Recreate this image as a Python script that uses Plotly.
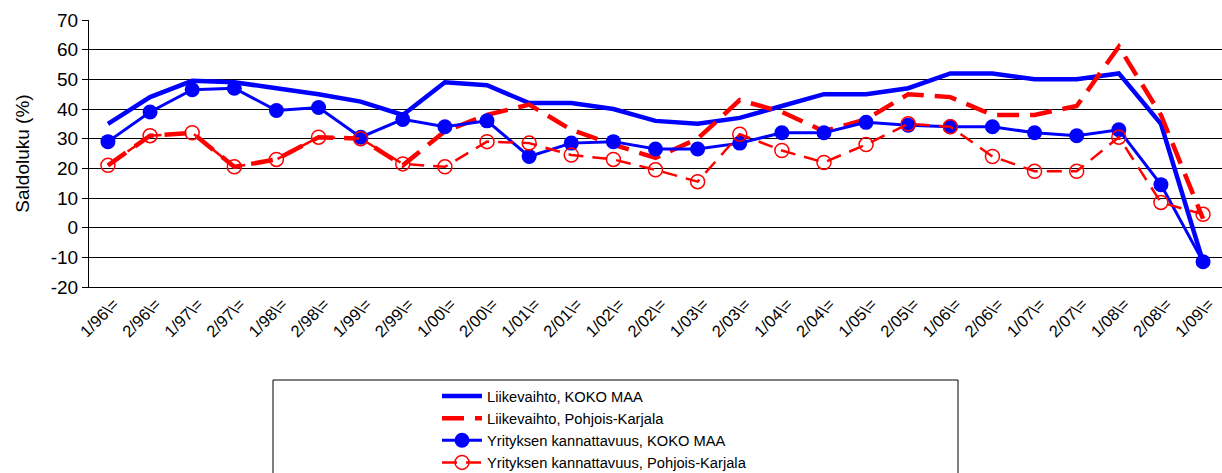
import plotly.graph_objects as go

categories = ["1/96\\=", "2/96\\=", "1/97\\=", "2/97\\=", "1/98\\=", "2/98\\=", "1/99\\=", "2/99\\=",
              "1/00\\=", "2/00\\=", "1/01\\=", "2/01\\=", "1/02\\=", "2/02\\=", "1/03\\=", "2/03\\=",
              "1/04\\=", "2/04\\=", "1/05\\=", "2/05\\=", "1/06\\=", "2/06\\=", "1/07\\=", "2/07\\=",
              "1/08\\=", "2/08\\=", "1/09\\="]

liikevaihto_koko = [35, 44, 49.5, 49, 47, 45, 42.5, 38, 49, 48, 42, 42, 40, 36, 35, 37,
                    41, 45, 45, 47, 52, 52, 50, 50, 52, 35, -11.5]
liikevaihto_pk = [21, 31, 32, 20.5, 23, 30.5, 30, 21, 32.5, 38, 41.5, 33, 28, 23.5, 30, 43,
                  39, 32.5, 36.5, 45, 44, 38, 38, 41, 61, 38, 3]
kannattavuus_koko = [29, 39, 46.5, 47, 39.5, 40.5, 30.5, 36.5, 34, 36, 24, 28.5, 29, 26.5, 26.5, 28.5,
                     32, 32, 35.5, 34.5, 34, 34, 32, 31, 33, 14.5, -11.5]
kannattavuus_pk = [21, 31, 32, 20.5, 23, 30.5, 30, 21.5, 20.5, 29, 28.5, 24.5, 23, 19.5, 15.5, 31.5,
                   26, 22, 28, 35, 34, 24, 19, 19, 30.5, 8.5, 4.5]

y_tick_values = [-20, -10, 0, 10, 20, 30, 40, 50, 60, 70]
y_tick_labels = ["-20", "-10", "0", "10", "20", "30", "40", "50", "60", "70"]

series_names = ["Liikevaihto, KOKO MAA", "Liikevaihto, Pohjois-Karjala",
                "Yrityksen kannattavuus, KOKO MAA", "Yrityksen kannattavuus, Pohjois-Karjala"]

BLUE = "#0000FF"
RED = "#FF0000"
FONT = "Liberation Sans, Arial, sans-serif"

fig = go.Figure()
fig.add_trace(go.Scatter(x=categories, y=liikevaihto_koko, name=series_names[0], mode="lines",
                         line=dict(color=BLUE, width=4.5)))
fig.add_trace(go.Scatter(x=categories, y=liikevaihto_pk, name=series_names[1], mode="lines",
                         line=dict(color=RED, width=4.5, dash="22px,11px")))
fig.add_trace(go.Scatter(x=categories, y=kannattavuus_koko, name=series_names[2], mode="lines+markers",
                         line=dict(color=BLUE, width=3),
                         marker=dict(symbol="circle", size=15, color=BLUE)))
fig.add_trace(go.Scatter(x=categories, y=kannattavuus_pk, name=series_names[3], mode="lines+markers",
                         line=dict(color=RED, width=2.5, dash="15px,9px"),
                         marker=dict(symbol="circle-open", size=14, color=RED, line=dict(width=1.5))))

W, H = 1222, 473
ML, MR, MT, MB = 89, 0, 20, 186
pw, ph = W - ML - MR, H - MT - MB

def px_x(x):
    return (x - ML) / pw

def px_y(y):
    return (H - MB - y) / ph

fig.update_layout(
    width=W, height=H,
    margin=dict(l=ML, r=MR, t=MT, b=MB, pad=0, autoexpand=False),
    paper_bgcolor="white", plot_bgcolor="white",
    font=dict(family=FONT, color="black", size=16),
    showlegend=True,
    legend=dict(x=px_x(437), y=px_y(380), xanchor="left", yanchor="top",
                bgcolor="rgba(0,0,0,0)", borderwidth=0,
                font=dict(family=FONT, size=14.7, color="black"), itemwidth=40),
    xaxis=dict(type="category", range=[-0.45, 26.45], showgrid=False, zeroline=False,
               showline=True, linecolor="black", linewidth=1, ticks="", automargin=False,
               tickmode="array", tickvals=categories, ticktext=categories,
               tickangle=-45, ticklabelshift=6,
               tickfont=dict(family=FONT, size=16.5, color="black")),
    yaxis=dict(range=[-20, 70], tickmode="array", tickvals=y_tick_values, ticktext=y_tick_labels,
               showgrid=True, gridcolor="black", gridwidth=1, automargin=False,
               zeroline=False, showline=True, linecolor="black", linewidth=1,
               ticks="outside", ticklen=6, tickcolor="black",
               tickfont=dict(family=FONT, size=19, color="black"),
               title=dict(text="Saldoluku (%)", standoff=16,
                          font=dict(family=FONT, size=19, color="black"))),
    shapes=[dict(type="rect", xref="paper", yref="paper",
                 x0=px_x(273), x1=px_x(958), y0=px_y(380), y1=px_y(520),
                 line=dict(color="black", width=1), fillcolor="rgba(0,0,0,0)", layer="above")],
)

fig.write_html("out.html", config={"displayModeBar": False},
               post_script="document.body.style.margin='0';document.body.style.overflow='hidden';")
